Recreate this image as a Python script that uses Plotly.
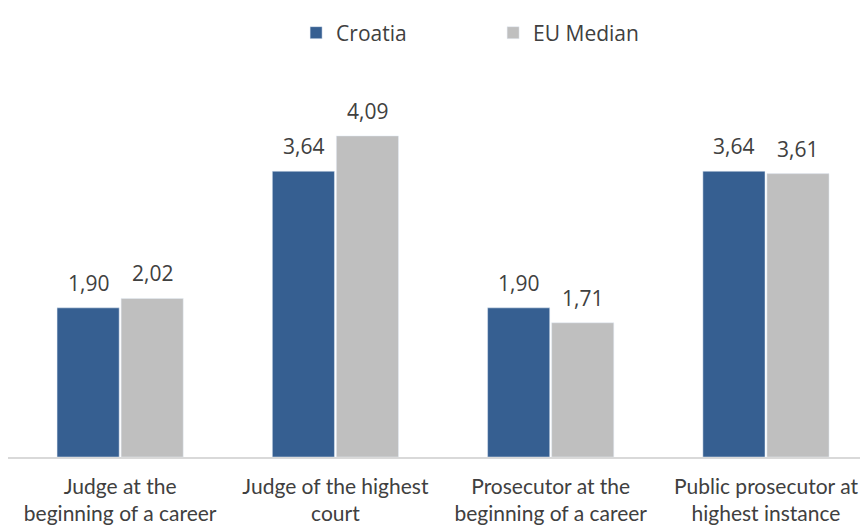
import plotly.graph_objects as go

categories = ["Judge at the<br>beginning of a career", "Judge of the highest<br>court",
              "Prosecutor at the<br>beginning of a career", "Public prosecutor at<br>highest instance"]
croatia = [1.90, 3.64, 1.90, 3.64]
eu_median = [2.02, 4.09, 1.71, 3.61]

label_font = dict(family="Open Sans, Noto Sans, sans-serif", size=21, color="#404040")

fig = go.Figure()
fig.add_trace(go.Bar(x=categories, y=croatia, name="Croatia", marker_color="#365f91"))
fig.add_trace(go.Bar(x=categories, y=eu_median, name="EU Median", marker_color="#bfbfbf"))

# value labels above each bar (positioned in data coordinates)
for series, shift in ((croatia, -32), (eu_median, 32)):
    for cat, val in zip(categories, series):
        fig.add_annotation(x=cat, y=val, xref="x", yref="y",
                           text=f"{val:.2f}".replace(".", ","), showarrow=False,
                           xshift=shift, yshift=25, yanchor="middle", font=label_font)

fig.update_layout(
    width=860, height=518,
    margin=dict(l=0, r=0, t=52, b=69),
    paper_bgcolor="white", plot_bgcolor="white",
    separators=",.",
    barmode="group", bargap=0.405, bargroupgap=0.03,
    showlegend=True,
    legend=dict(orientation="h", x=0.335, xanchor="left", y=0.9517, yanchor="middle",
                yref="container", font=dict(family="Open Sans, Noto Sans, sans-serif", size=21, color="#404040"),
                itemwidth=30, entrywidth=152, traceorder="normal"),
    xaxis=dict(range=[-0.5209, 3.474], showline=True, linecolor="#d9d9d9", linewidth=1.5,
               ticks="", ticklabelstandoff=10, automargin=False,
               tickfont=dict(family="Lato, Noto Sans, sans-serif", size=21, color="#404040"),
               showgrid=False),
    yaxis=dict(range=[0, 5.057], visible=False, showgrid=False, zeroline=False, automargin=False),
    font=dict(family="Open Sans, sans-serif", color="#404040"),
)

fig.write_html("out.html")
